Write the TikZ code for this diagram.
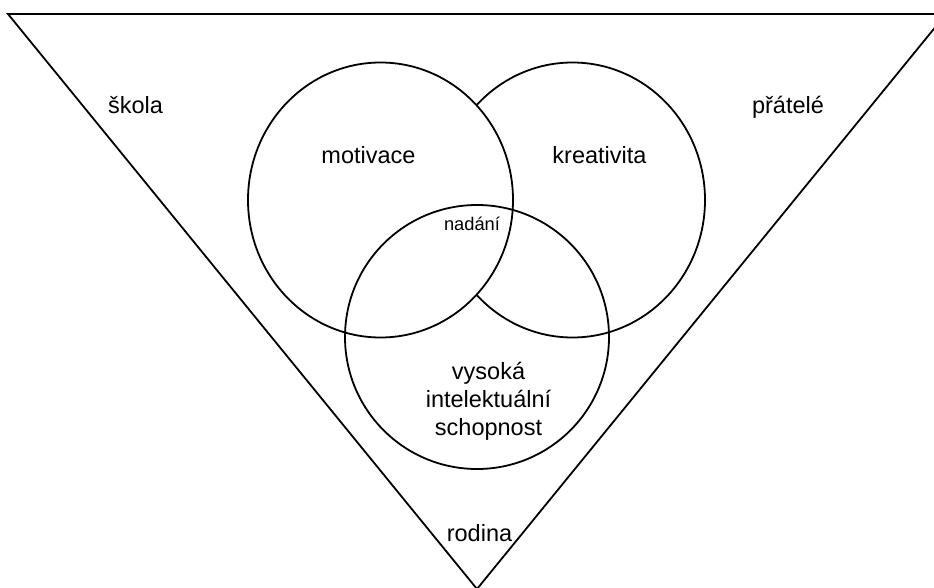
\documentclass[tikz,border=0pt]{standalone}
\usepackage{fontspec}
\setmainfont{Liberation Sans}
\usepackage{xcolor}
\usepackage{tikz}
\usetikzlibrary{shapes.geometric}
\definecolor{Ink}{HTML}{000000}

\begin{document}
\begin{tikzpicture}[
  x=1pt,y=-1pt,
  font=\fontsize{23.5}{28}\selectfont,
  trait/.style={draw=Ink,fill=white,ellipse,line width=1.8pt,
    minimum width=265pt,minimum height=275pt,inner sep=0pt},
  core/.style={draw=Ink,fill=none,circle,line width=1.8pt,
    minimum size=264pt,inner sep=0pt},
  frame/.style={draw=Ink,line width=1.8pt,line join=miter},
  word/.style={anchor=base,inner sep=0pt,text=Ink},
  small/.style={word,font=\fontsize{18.3}{22}\selectfont}
]
  \useasboundingbox (0,0) rectangle (934,588);
  \clip (0,0) rectangle (934,588);

  \coordinate (left) at (8,14);
  \coordinate (right) at (946,14);
  \coordinate (apex) at (477,589);
  \draw[frame] (left) -- (right) -- (apex) -- cycle;

  \node[trait] (kreativita) at (572.5,200) {};
  \node[trait] (motivace) at (380.5,200) {};
  \node[core] (schopnost) at (477,337) {};

  \node[word] (skola) at (135.5,114) {škola};
  \node[word] (pratele) at (788,114) {přátelé};
  \node[word] (rodina) at (479.5,541.5) {rodina};
  \node[word] (motivacetext) at (368.5,164) {motivace};
  \node[word] (kreativitatext) at (599.5,164) {kreativita};
  \node[small] (nadani) at (472,230.5) {nadání};
  \node[word,align=center] (schopnosttext) at (488.5,435) {vysoká\\intelektuální\\schopnost};
\end{tikzpicture}
\end{document}
